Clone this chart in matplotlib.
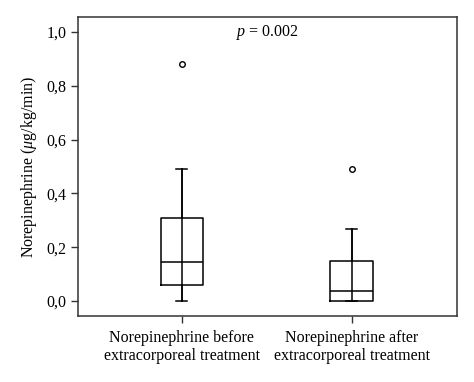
import numpy as np
import matplotlib
matplotlib.use('Agg')
import matplotlib.pyplot as plt

plt.rcParams['font.family'] = 'Liberation Serif'
plt.rcParams['mathtext.fontset'] = 'custom'
plt.rcParams['mathtext.rm'] = 'Liberation Serif'
plt.rcParams['mathtext.it'] = 'Liberation Serif:italic'

# box statistics
group_labels = ['Norepinephrine before\nextracorporeal treatment',
                'Norepinephrine after\nextracorporeal treatment']
whisker_low = [0.0, 0.0]
q1 = [0.059, 0.0]
median = [0.146, 0.036]
q3 = [0.309, 0.149]
whisker_high = [0.492, 0.268]
outliers = [[0.881], [0.492]]

y_ticks = [0.0, 0.2, 0.4, 0.6, 0.8, 1.0]
y_tick_labels = ['0,0', '0,2', '0,4', '0,6', '0,8', '1,0']
p_text = r'$p$ = 0.002'

stats = []
for i in range(len(group_labels)):
	stats.append({'whislo': whisker_low[i], 'q1': q1[i], 'med': median[i],
				  'q3': q3[i], 'whishi': whisker_high[i], 'fliers': outliers[i]})

fig = plt.figure(figsize=(4.74, 3.82), dpi=100)
ax = fig.add_axes([78/474, 1-316/382, 379/474, 299/382])

fs = 11.5
lw = 1.1
ax.bxp(stats, positions=[1, 2], widths=0.25, capwidths=0.065,
	   boxprops=dict(color='black', linewidth=lw),
	   whiskerprops=dict(color='black', linewidth=lw),
	   capprops=dict(color='black', linewidth=lw),
	   medianprops=dict(color='black', linewidth=lw),
	   flierprops=dict(marker='o', markersize=4, markerfacecolor='white',
					   markeredgecolor='black', markeredgewidth=1.0))

# whisker line passes through the box, as in the original
for i in range(len(group_labels)):
	ax.plot([i+1, i+1], [whisker_low[i], whisker_high[i]], color='black', linewidth=lw)

ax.set_xlim(0.388, 2.62)
ax.set_ylim(-0.056, 1.056)
ax.set_yticks(y_ticks)
ax.set_yticklabels(y_tick_labels)
ax.set_xticks([1, 2])
ax.set_xticklabels(group_labels, linespacing=1.15)
ax.tick_params(axis='both', direction='out', length=5, width=1.0, labelsize=fs, color='#333333')
ax.tick_params(axis='x', pad=5)
for s in ax.spines.values():
	s.set_linewidth(1.1)
	s.set_color('#333333')

ax.set_ylabel(r'Norepinephrine ($\mu$g/kg/min)', fontsize=fs, labelpad=5)
ax.text(0.5, 1.0, p_text, transform=ax.get_yaxis_transform(), ha='center', va='center', fontsize=fs)

fig.savefig('out.png', dpi=100)
